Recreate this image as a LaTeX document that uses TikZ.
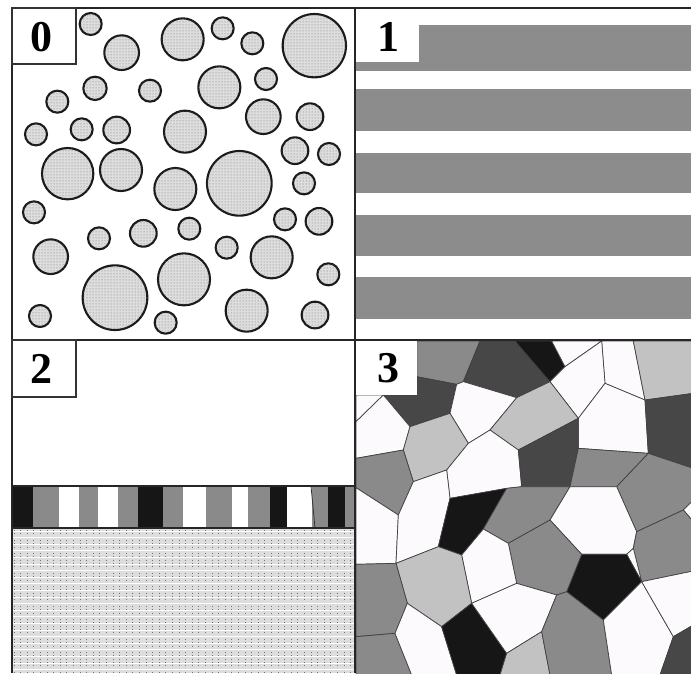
\documentclass[tikz,border=0pt]{standalone}
\usepackage{fontspec}
\setmainfont{Liberation Serif}
\usetikzlibrary{patterns}
\definecolor{cW}{HTML}{FCFAFC}
\definecolor{cL}{HTML}{C2C2C2}
\definecolor{cM}{HTML}{8A8A8A}
\definecolor{cD}{HTML}{474747}
\definecolor{cK}{HTML}{161616}
\definecolor{cC}{HTML}{DDDDDD}
\definecolor{cS}{HTML}{8C8C8C}
\begin{document}
\begin{tikzpicture}[x=1pt,y=-1pt,
  cell/.style={draw=black!75, line width=0.7pt, line join=round},
  bubble/.style={draw=black!90, line width=2.1pt, fill=cC, postaction={pattern=dots, pattern color=black!55}},
  frame/.style={draw=black!85, line width=2pt},
  labbox/.style={fill=white, draw=black!80, line width=1.2pt},
  lab/.style={font=\fontsize{44}{44}\selectfont\bfseries, inner sep=0pt}]
\useasboundingbox (0,0) rectangle (691,673);
\fill[white] (0,0) rectangle (691,673);

% ---------- panel 0: circles ----------
\foreach \cx/\cy/\r in {272/72/33, 365/158/52, 548/118/63, 668/85/33, 757/130/33, 943/137/95,
  285/265/35, 450/272/33, 172/305/33, 658/262/63, 798/237/33, 108/403/33, 245/388/33,
  350/390/40, 555/395/63, 790/350/52, 930/350/40, 203/521/77, 363/510/63, 526/567/63,
  718/550/97, 885/452/40, 987/462/33, 912/550/33, 102/637/33, 297/715/33, 430/700/40,
  568/686/33, 680/743/33, 855/658/33, 957/664/40, 152/770/52, 815/772/63, 985/823/33,
  552/838/78, 345/893/97, 120/948/33, 497/968/33, 740/932/63, 945/945/40}
  \draw[bubble] (\cx/3,\cy/3) circle[radius=\r/3];

% ---------- panel 1: stripes ----------
\foreach \ya/\yb in {25/71, 89/131, 153/193, 215/256, 277/319}
  \fill[cS] (355,\ya) rectangle (691,\yb);

% ---------- panel 2: layers ----------
\fill[cC] (12,528) rectangle (355,673);
\foreach \i in {0,...,52}
  \draw[black!55, line width=0.9pt, dash pattern=on 0.9pt off 2.4pt] (14+\i*6.6,530) -- (14+\i*6.6,673);
\foreach \j in {0,...,22}
  \draw[white, line width=0.8pt] (12,531+\j*6.6) -- (355,531+\j*6.6);
\foreach \xa/\xb/\c in {12/33/cK, 33/59/cM, 59/79/white, 79/98/cM, 98/118/white, 118/138/cM,
  138/163/cK, 163/183/cM, 183/206/white, 206/232/cM, 232/248/white, 248/270/cM,
  270/287/cK, 287/312/white, 312/328/cM, 328/345/cK, 345/355/cM}
  \fill[\c] (\xa,486) rectangle (\xb,528);
\draw[black!80, line width=0.8pt] (311,486) -- (315,528);
\draw[black!85, line width=1.2pt] (12,486) -- (355,486) (12,528) -- (355,528);

% ---------- panel 3: cells ----------
\begin{scope}
\clip (355,340) rectangle (691,673);
\begin{scope}[shift={(350,335)}, x=0.33333pt, y=-0.33333pt]
\filldraw[cell, fill=cM] (200,18) -- (390,18) -- (340,140) -- (320,148) -- (200,125) -- cycle;
\filldraw[cell, fill=cD] (390,18) -- (495,18) -- (600,140) -- (500,188) -- (340,140) -- cycle;
\filldraw[cell, fill=cK] (495,18) -- (605,18) -- (645,95) -- (600,140) -- cycle;
\filldraw[cell, fill=cW] (605,18) -- (755,18) -- (645,95) -- cycle;
\filldraw[cell, fill=cW] (755,18) -- (850,18) -- (885,195) -- (765,145) -- cycle;
\filldraw[cell, fill=cL] (850,18) -- (1030,18) -- (1030,175) -- (885,195) -- cycle;
\filldraw[cell, fill=cW] (645,95) -- (755,18) -- (765,145) -- (685,250) -- (600,140) -- cycle;
\filldraw[cell, fill=cD] (100,180) -- (200,180) -- (200,125) -- (320,148) -- (300,235) -- (180,275) -- cycle;
\filldraw[cell, fill=cW] (18,180) -- (100,180) -- (18,260) -- cycle;
\filldraw[cell, fill=cW] (18,260) -- (100,180) -- (180,275) -- (160,345) -- (18,370) -- cycle;
\filldraw[cell, fill=cW] (320,148) -- (340,140) -- (500,188) -- (420,285) -- (355,325) -- (300,235) -- cycle;
\filldraw[cell, fill=cL] (180,275) -- (300,235) -- (355,325) -- (290,405) -- (190,440) -- (160,345) -- cycle;
\filldraw[cell, fill=cL] (500,188) -- (600,140) -- (685,250) -- (505,345) -- (420,285) -- cycle;
\filldraw[cell, fill=cW] (765,145) -- (885,195) -- (895,355) -- (685,340) -- (685,250) -- cycle;
\filldraw[cell, fill=cD] (885,195) -- (1030,175) -- (1030,400) -- (895,355) -- cycle;
\filldraw[cell, fill=cM] (18,370) -- (160,345) -- (190,440) -- (145,540) -- (18,458) -- cycle;
\filldraw[cell, fill=cW] (290,405) -- (355,325) -- (420,285) -- (505,345) -- (515,455) -- (470,460) -- (300,490) -- cycle;
\filldraw[cell, fill=cD] (505,345) -- (685,250) -- (685,340) -- (660,455) -- (515,455) -- cycle;
\filldraw[cell, fill=cM] (685,340) -- (895,355) -- (800,455) -- (660,455) -- cycle;
\filldraw[cell, fill=cM] (800,455) -- (895,355) -- (1030,400) -- (1030,495) -- (1000,525) -- (860,590) -- cycle;
\filldraw[cell, fill=cW] (1000,525) -- (1030,495) -- (1030,560) -- cycle;
\filldraw[cell, fill=cW] (18,458) -- (145,540) -- (138,685) -- (18,688) -- cycle;
\filldraw[cell, fill=cW] (190,440) -- (290,405) -- (300,490) -- (265,635) -- (138,685) -- (145,540) -- cycle;
\filldraw[cell, fill=cK] (300,490) -- (470,460) -- (400,582) -- (335,660) -- (265,635) -- cycle;
\filldraw[cell, fill=cM] (470,460) -- (515,455) -- (660,455) -- (600,555) -- (475,625) -- (400,582) -- cycle;
\filldraw[cell, fill=cW] (660,455) -- (800,455) -- (860,590) -- (850,640) -- (830,658) -- (695,658) -- (600,555) -- cycle;
\filldraw[cell, fill=cM] (860,590) -- (1000,525) -- (1030,560) -- (1030,708) -- (875,740) -- (850,640) -- cycle;
\filldraw[cell, fill=cW] (830,658) -- (850,640) -- (875,740) -- cycle;
\filldraw[cell, fill=cK] (695,658) -- (830,658) -- (875,740) -- (760,855) -- (650,770) -- cycle;
\filldraw[cell, fill=cM] (475,625) -- (600,555) -- (695,658) -- (650,770) -- (620,780) -- (500,745) -- cycle;
\filldraw[cell, fill=cW] (335,660) -- (400,582) -- (475,625) -- (500,745) -- (365,805) -- cycle;
\filldraw[cell, fill=cL] (138,685) -- (265,635) -- (335,660) -- (365,805) -- (275,875) -- (172,805) -- cycle;
\filldraw[cell, fill=cM] (18,688) -- (138,685) -- (172,805) -- (135,895) -- (18,905) -- cycle;
\filldraw[cell, fill=cM] (18,905) -- (135,895) -- (185,1020) -- (18,1020) -- cycle;
\filldraw[cell, fill=cW] (135,895) -- (172,805) -- (275,875) -- (320,1020) -- (185,1020) -- cycle;
\filldraw[cell, fill=cK] (275,875) -- (365,805) -- (470,955) -- (450,1020) -- (320,1020) -- cycle;
\filldraw[cell, fill=cW] (365,805) -- (500,745) -- (620,780) -- (575,890) -- (470,955) -- cycle;
\filldraw[cell, fill=cL] (470,955) -- (575,890) -- (600,1020) -- (450,1020) -- cycle;
\filldraw[cell, fill=cM] (620,780) -- (650,770) -- (760,855) -- (785,1020) -- (600,1020) -- (575,890) -- cycle;
\filldraw[cell, fill=cW] (760,855) -- (875,740) -- (970,905) -- (930,1020) -- (785,1020) -- cycle;
\filldraw[cell, fill=cW] (875,740) -- (1030,708) -- (1030,870) -- (970,905) -- cycle;
\filldraw[cell, fill=cD] (970,905) -- (1030,870) -- (1030,1020) -- (930,1020) -- cycle;
\end{scope}
\end{scope}

% ---------- frame ----------
\draw[frame] (12,8) -- (691,8);
\draw[frame] (12,8) -- (12,673);
\draw[frame] (355,8) -- (355,673);
\draw[frame] (12,340) -- (691,340);

% ---------- labels ----------
\filldraw[labbox] (12,8) rectangle (76,64);
\node[lab] (l0) at (41,37) {0};
\fill[white] (356,9) rectangle (419,62);
\node[lab] (l1) at (388,37) {1};
\filldraw[labbox] (12,340) rectangle (76,397);
\node[lab] (l2) at (41,369) {2};
\fill[white] (356,341) rectangle (417,395);
\node[lab] (l3) at (388,368) {3};
\end{tikzpicture}
\end{document}
